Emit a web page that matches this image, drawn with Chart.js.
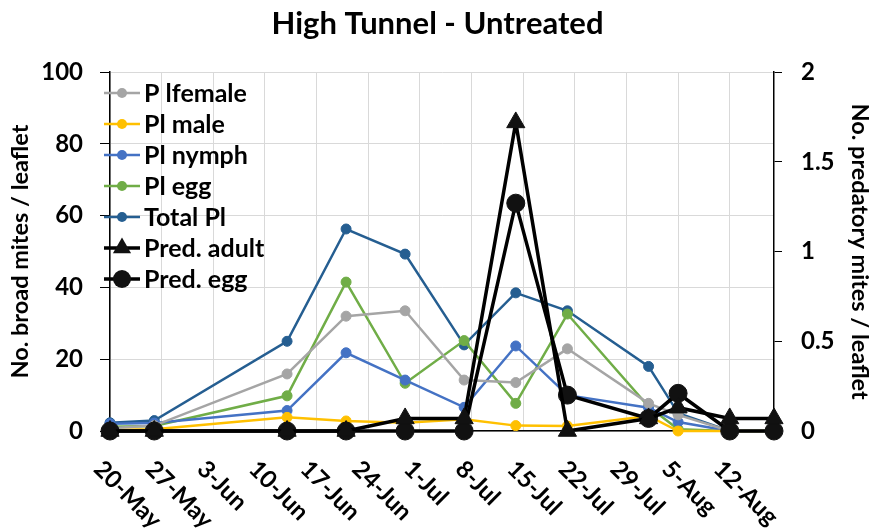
<!DOCTYPE html>
<html>
<head>
<meta charset="utf-8">
<script src="https://cdn.jsdelivr.net/npm/chart.js@4.4.1/dist/chart.umd.min.js"></script>
<style>
  html, body { margin: 0; padding: 0; background: #fff; }
  #wrap { width: 875px; height: 529px; position: relative; }
</style>
</head>
<body>
<div id="wrap"><canvas id="myChart"></canvas></div>
<script>
// 샘플링 날짜 (20-May 기준 경과 일수로 변환해서 사용)
var sampleDates = ['20-May', '26-May', '13-Jun', '21-Jun', '29-Jun', '7-Jul', '14-Jul', '21-Jul', '1-Aug', '5-Aug', '12-Aug', '18-Aug'];
// x축 눈금 라벨 (7일 간격)
var weekLabels = ['20-May', '27-May', '3-Jun', '10-Jun', '17-Jun', '24-Jun', '1-Jul', '8-Jul', '15-Jul', '22-Jul', '29-Jul', '5-Aug', '12-Aug'];

// 왼쪽 축: broad mites / leaflet
var plFemale = [0.8, 1.5, 15.9, 32.0, 33.5, 14.2, 13.5, 22.9, 7.7, 4.5, 0, 0];
var plMale   = [0.3, 0.5, 3.8, 2.8, 2.3, 3.3, 1.5, 1.4, 4.2, 0, 0, 0];
var plNymph  = [2.0, 2.2, 5.7, 21.8, 14.2, 6.6, 23.7, 10.0, 6.5, 2.5, 0, 0];
var plEgg    = [1.2, 1.4, 9.8, 41.5, 13.3, 25.2, 7.7, 32.6, 6.8, 0.5, 0, 0];
var totalPl  = [2.3, 2.9, 25.0, 56.3, 49.3, 24.0, 38.5, 33.5, 18.0, 5.0, 0, 0];
// 오른쪽 축: predatory mites / leaflet
var predAdult = [0, 0, 0, 0, 0.07, 0.07, 1.72, 0, 0.07, 0.13, 0.07, 0.07];
var predEgg   = [0, 0, 0, 0, 0, 0, 1.27, 0.2, 0.07, 0.21, 0, 0];

var months = { May: 5, Jun: 6, Jul: 7, Aug: 8 };
var monthDays = { 5: 31, 6: 30, 7: 31, 8: 31 };
function dayOffset(label) {
  var parts = label.split('-');
  var d = parseInt(parts[0], 10), m = months[parts[1]];
  var n = d - 20;
  for (var mm = 5; mm < m; mm++) n += monthDays[mm];
  return n;
}
var xDays = sampleDates.map(dayOffset);
function pts(vals) {
  return vals.map(function (v, i) { return { x: xDays[i], y: v }; });
}

var FONT = 'Lato, "Open Sans", sans-serif';

// x축 라벨을 45도로 그리기 (아래 오른쪽 방향)
var xLabelPlugin = {
  id: 'xLabels',
  afterDraw: function (chart) {
    var sc = chart.scales.x, ctx = chart.ctx;
    ctx.save();
    ctx.font = 'bold 24px ' + FONT;
    ctx.fillStyle = '#000';
    ctx.textAlign = 'left';
    ctx.textBaseline = 'middle';
    weekLabels.forEach(function (lab, i) {
      var x = sc.getPixelForValue(i * 7);
      ctx.save();
      ctx.translate(x - 12, sc.top + 34);
      ctx.rotate(Math.PI / 4);
      ctx.fillText(lab, 0, 0);
      ctx.restore();
    });
    ctx.restore();
  }
};

// 차트 영역 안쪽 왼쪽 위 범례
var legendPlugin = {
  id: 'innerLegend',
  afterDraw: function (chart) {
    var ctx = chart.ctx;
    var items = [0, 1, 2, 3, 4, 5, 6];
    ctx.save();
    ctx.font = 'bold 25px ' + FONT;
    ctx.textBaseline = 'middle';
    ctx.textAlign = 'left';
    items.forEach(function (idx, k) {
      var ds = chart.data.datasets[idx];
      var y = 93 + k * 31;
      ctx.strokeStyle = ds.borderColor;
      ctx.lineWidth = ds.borderWidth;
      ctx.beginPath();
      ctx.moveTo(104, y);
      ctx.lineTo(140, y);
      ctx.stroke();
      ctx.fillStyle = ds.pointBackgroundColor;
      var r = ds.pointRadius;
      ctx.beginPath();
      if (ds.pointStyle === 'triangle') {
        ctx.moveTo(122, y - r);
        ctx.lineTo(122 + r * 0.866, y + r / 2);
        ctx.lineTo(122 - r * 0.866, y + r / 2);
        ctx.closePath();
      } else {
        ctx.arc(122, y, r, 0, Math.PI * 2);
      }
      ctx.fill();
      ctx.fillStyle = '#000';
      ctx.fillText(ds.label, 144, y + 1);
    });
    ctx.restore();
  }
};

function plSet(label, data, color) {
  return {
    label: label, data: pts(data), yAxisID: 'y',
    borderColor: color, backgroundColor: color,
    pointBackgroundColor: color, pointBorderColor: color,
    borderWidth: 2.5, pointRadius: 5, pointBorderWidth: 1,
    clip: false, order: 2
  };
}
function predSet(label, data, style, r) {
  return {
    label: label, data: pts(data), yAxisID: 'y1',
    borderColor: '#000', backgroundColor: '#111',
    pointBackgroundColor: '#111', pointBorderColor: '#111',
    borderWidth: 3.5, pointRadius: r, pointBorderWidth: 1, pointStyle: style,
    clip: false, order: 1
  };
}

var ctx = document.getElementById('myChart').getContext('2d');
var myChart = new Chart(ctx, {
  type: 'line',
  data: {
    datasets: [
      plSet('P lfemale', plFemale, '#A5A5A5'),
      plSet('Pl male', plMale, '#FFC000'),
      plSet('Pl nymph', plNymph, '#4472C4'),
      plSet('Pl egg', plEgg, '#70AD47'),
      plSet('Total Pl', totalPl, '#255E91'),
      predSet('Pred. adult', predAdult, 'triangle', 10.5),
      predSet('Pred. egg', predEgg, 'circle', 9)
    ]
  },
  plugins: [xLabelPlugin, legendPlugin],
  options: {
    responsive: true,
    maintainAspectRatio: false,
    animation: false,
    layout: { padding: 0 },
    plugins: {
      legend: { display: false },
      tooltip: { enabled: false },
      title: {
        display: true,
        text: 'High Tunnel - Untreated',
        color: '#000',
        font: { family: FONT, size: 31, weight: 'bold' },
        padding: { top: 5, bottom: 30 }
      }
    },
    scales: {
      x: {
        type: 'linear',
        min: 0, max: 90,
        afterBuildTicks: function (sc) {
          sc.ticks = weekLabels.map(function (l, i) { return { value: i * 7 }; });
        },
        afterFit: function (sc) { sc.height = 98; },
        ticks: { display: false },
        grid: { color: '#D9D9D9', lineWidth: 1, drawTicks: false },
        border: { color: '#000', width: 1.5 }
      },
      y: {
        position: 'left',
        min: 0, max: 100,
        afterFit: function (sc) { sc.width = 110; },
        ticks: {
          stepSize: 20, padding: 17, color: '#000',
          font: { family: FONT, size: 24, weight: 'bold' }
        },
        grid: { color: '#D9D9D9', tickColor: '#000', tickLength: 10, lineWidth: 1 },
        border: { color: '#000', width: 1.5 },
        title: {
          display: true, text: 'No. broad mites / leaflet', color: '#000',
          font: { family: FONT, size: 23.5, weight: 'bold' },
          padding: { top: 6, bottom: 0 }
        }
      },
      y1: {
        position: 'right',
        min: 0, max: 2,
        afterFit: function (sc) { sc.width = 101; },
        ticks: {
          stepSize: 0.5, padding: 19, color: '#000',
          font: { family: FONT, size: 24, weight: 'bold' },
          callback: function (v) { return String(v); }
        },
        grid: { drawOnChartArea: false, tickColor: '#000', tickLength: 8 },
        border: { color: '#000', width: 1.5 },
        title: {
          display: true, text: 'No. predatory mites / leaflet', color: '#000',
          font: { family: FONT, size: 23.5, weight: 'bold' },
          padding: { top: 1, bottom: 0 }
        }
      }
    }
  }
});
</script>
</body>
</html>
